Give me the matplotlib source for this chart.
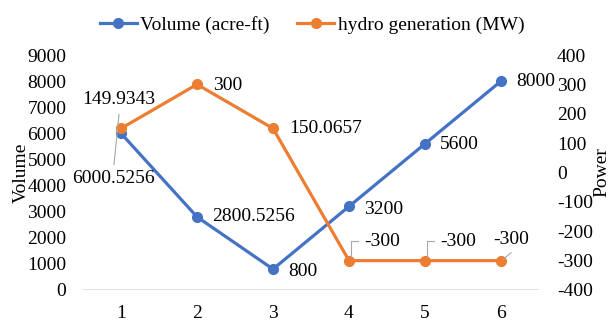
import matplotlib.pyplot as plt
from matplotlib.lines import Line2D

# series data
steps = [1, 2, 3, 4, 5, 6]
volume = [6000.5256, 2800.5256, 800, 3200, 5600, 8000]
hydro = [149.9343, 300, 150.0657, -300, -300, -300]
volume_labels = ['6000.5256', '2800.5256', '800', '3200', '5600', '8000']
hydro_labels = ['149.9343', '300', '150.0657', '-300', '-300', '-300']

BLUE = '#4472C4'
ORANGE = '#ED7D31'
GREY = '#D9D9D9'
FS = 14

plt.rcParams['font.family'] = ['Liberation Serif', 'DejaVu Serif']
plt.rcParams['font.size'] = FS
plt.rcParams['axes.unicode_minus'] = False

fig = plt.figure(figsize=(6.12, 3.27), dpi=100)
ax = fig.add_axes([83/612, 37/327, 456/612, 235/327])
ax2 = ax.twinx()

l1, = ax.plot(steps, volume, color=BLUE, lw=2.3, marker='o', ms=7,
              label='Volume (acre-ft)', zorder=3, clip_on=False)
l2, = ax2.plot(steps, hydro, color=ORANGE, lw=2.3, marker='o', ms=7,
               label='hydro generation (MW)', zorder=3, clip_on=False)

ax.set_xlim(0.5, 6.5)
ax.set_ylim(0, 9000)
ax.set_yticks(range(0, 9001, 1000))
ax2.set_ylim(-400, 400)
ax2.set_yticks(range(-400, 401, 100))
ax.set_xticks(steps)

for a in (ax, ax2):
    for s in a.spines.values():
        s.set_visible(False)
    a.tick_params(length=0, labelsize=FS)
ax.tick_params(axis='y', pad=12)
ax.tick_params(axis='x', pad=11)
ax2.tick_params(axis='y', pad=13)
ax.axhline(0, color=GREY, lw=1.2, zorder=1)

ax.set_ylabel('Volume', fontsize=FS, labelpad=-2)
ax2.set_ylabel('Power', fontsize=FS, labelpad=0)

# data labels: (dx, dy) in pixels from the point, horizontal alignment
vol_off = [(-8, -45, 'center'), (15, 0, 'left'), (15, -2, 'left'),
           (15, -3, 'left'), (15, -1, 'left'), (15, 0, 'left')]
hyd_off = [(-2, 29, 'center'), (16, -1, 'left'), (16, 0, 'left'),
           (15, 19, 'left'), (15, 19, 'left'), (10, 21, 'center')]

for x, y, t, (dx, dy, ha) in zip(steps, volume, volume_labels, vol_off):
    ax.annotate(t, (x, y), xytext=(dx, dy), textcoords='offset pixels',
                ha=ha, va='center', fontsize=FS, zorder=5)
for x, y, t, (dx, dy, ha) in zip(steps, hydro, hydro_labels, hyd_off):
    ax2.annotate(t, (x, y), xytext=(dx, dy), textcoords='offset pixels',
                 ha=ha, va='center', fontsize=FS, zorder=5)


def leader(a, x, y, pts):
    # thin grey leader line, vertices given as pixel offsets from a data point
    px, py = a.transData.transform((x, y))
    xs = [px + dx for dx, dy in pts]
    ys = [py + dy for dx, dy in pts]
    fig.lines.append(Line2D(xs, ys, transform=None, color='#A6A6A6', lw=0.8,
                            zorder=2, figure=fig))


leader(ax2, steps[0], hydro[0], [(-2, 14), (-7, -36)])
leader(ax2, steps[3], hydro[3], [(2, 4), (2, 20), (9, 20)])
leader(ax2, steps[4], hydro[4], [(2, 4), (2, 20), (9, 20)])
leader(ax2, steps[5], hydro[5], [(2, 1), (10, 8)])

fig.legend(handles=[l1, l2], loc='upper center', bbox_to_anchor=(0.51, 1.005),
           ncol=2, frameon=False, fontsize=FS, handlelength=1.9,
           handletextpad=0.2, columnspacing=1.4)

fig.savefig('out.png', dpi=100)
